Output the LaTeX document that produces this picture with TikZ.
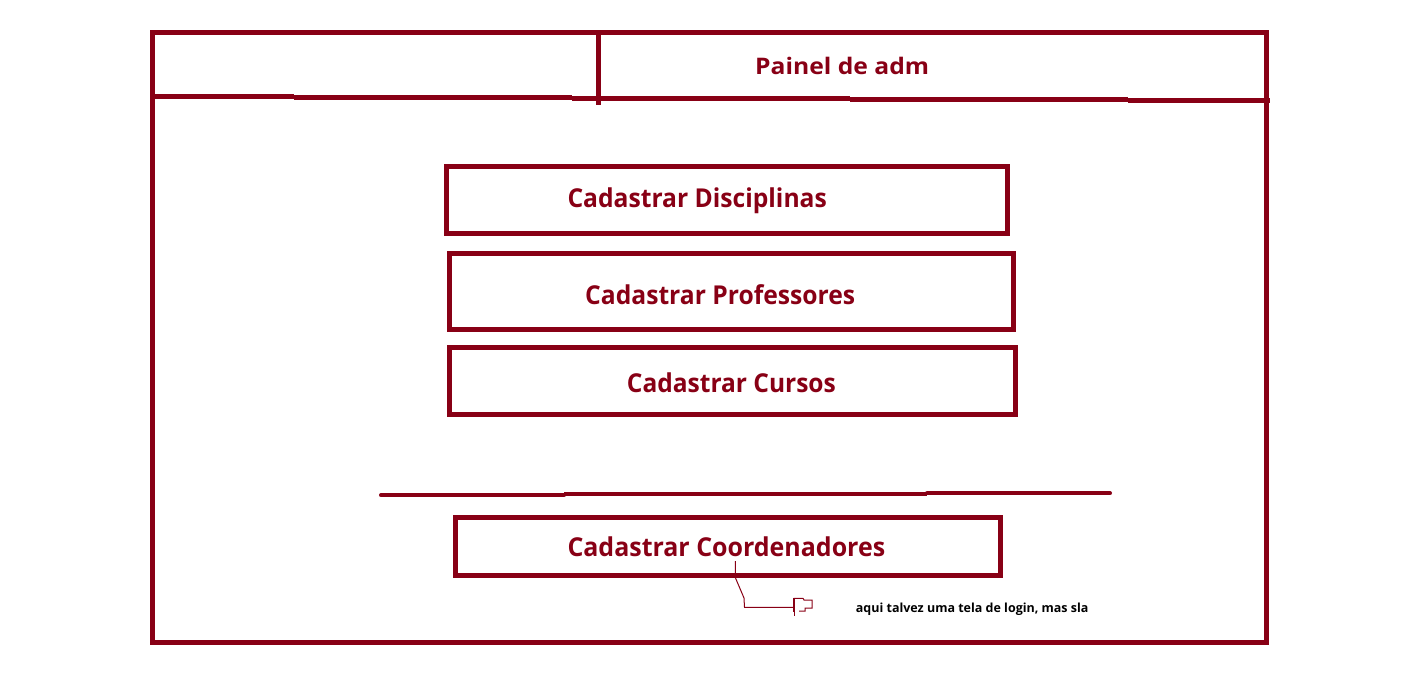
\documentclass[tikz,border=0pt]{standalone}
\usepackage{fontspec}
\setmainfont{Open Sans}
\usepackage{graphicx}
\definecolor{dred}{HTML}{880015}
\newcommand\fitto[2]{\sbox0{#2}\pgfmathsetmacro\fitr{#1/\the\wd0}\scalebox{\fitr}[1]{\usebox0}}
\begin{document}
\begin{tikzpicture}[x=1pt,y=-1pt,
  thickline/.style={draw=dred,line width=5pt,line cap=butt},
  btn/.style={draw=dred,line width=5pt,rectangle,inner sep=0pt,outer sep=0pt},
  lbl/.style={text=dred,font=\bfseries\fontsize{26}{30}\selectfont,inner sep=0pt,anchor=base west},
  ttl/.style={text=dred,font=\bfseries\fontsize{22.8}{27}\selectfont,inner sep=0pt,anchor=base west},
  note/.style={text=black,font=\bfseries\fontsize{12.5}{15}\selectfont,inner sep=0pt,anchor=base west},
  pointer/.style={draw=dred,line width=1pt}]
\useasboundingbox (0,0) rectangle (1401,683);
% outer frame
\node[btn,minimum width=1113.8pt,minimum height=610pt] (frame) at (709.4,337.5) {};
% header line (stepped)
\draw[thickline] (152.5,96.3) -- (294,96.3);
\draw[thickline] (294,97.7) -- (572,97.7);
\draw[thickline] (572,98.5) -- (850,98.5);
\draw[thickline] (850,99.3) -- (1128,99.3);
\draw[thickline] (1128,100.3) -- (1270,100.3);
\draw[thickline] (598.3,32.5) -- (598.3,104.7);
\node[ttl] (title) at (755,74) {\fitto{174}{Painel de adm}};
% buttons
\node[btn,minimum width=560.5pt,minimum height=66.5pt] (b1) at (726.75,199.75) {};
\node[btn,minimum width=564pt,minimum height=76.5pt] (b2) at (731,291.25) {};
\node[btn,minimum width=565.5pt,minimum height=66.8pt] (b3) at (732.25,381.1) {};
\node[btn,minimum width=544.6pt,minimum height=58.6pt] (b4) at (727.7,546.5) {};
\node[lbl] (t1) at (567.3,207) {\fitto{259.4}{Cadastrar Disciplinas}};
\node[lbl] (t2) at (585,304.3) {\fitto{270}{Cadastrar Professores}};
\node[lbl] (t3) at (626.7,392) {\fitto{209}{Cadastrar Cursos}};
\node[lbl] (t4) at (567.3,556.7) {\fitto{317.7}{Cadastrar Coordenadores}};
% separator
\draw[draw=dred,line width=4pt,line cap=round] (381,495.3) -- (564,495.3);
\draw[draw=dred,line width=4pt] (564,494) -- (927,494);
\draw[draw=dred,line width=4pt,line cap=round] (927,493.3) -- (1110,493.3);
% pointer and flag
\coordinate (pstart) at (735.3,561);
\coordinate (ptip) at (793,607.3);
\draw[pointer] (pstart) -- (735.5,578) -- (744,598) -- (744.5,607.3) -- (ptip);
\draw[pointer] (793,598.3) -- (793,612);
\draw[pointer,line width=1.5pt] (794.6,598.3) -- (794.6,616);
\draw[pointer] (793.5,598.3) -- (803,598.3) -- (804,600) -- (812,600) -- (812,608) -- (805,608) -- (805,611) -- (799,611);
\node[note] (n1) at (855.7,612.5) {\fitto{232.6}{aqui talvez uma tela de login, mas sla}};
\end{tikzpicture}
\end{document}
